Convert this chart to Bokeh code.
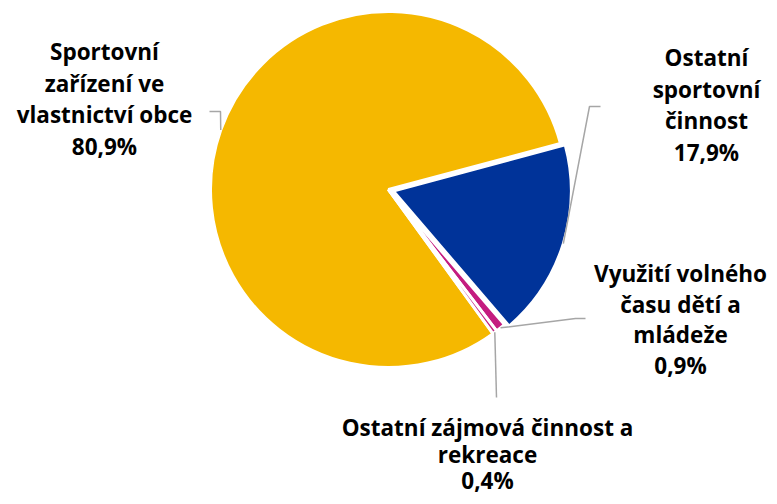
import math
from bokeh.plotting import figure
from bokeh.models import Range1d
from bokeh.core.properties import value
from bokeh.embed import file_html
from bokeh.resources import INLINE

# ---- data ----
categories = ["Sportovní\nzařízení ve\nvlastnictví obce",
              "Ostatní\nsportovní\nčinnost",
              "Využití volného\nčasu dětí a\nmládeže",
              "Ostatní zájmová činnost a\nrekreace"]
shares = [80.9, 17.9, 0.9, 0.4]
pct_labels = ["80,9%", "17,9%", "0,9%", "0,4%"]
colors = ["#F5B800", "#003399", "#C41C80", "#C41C80"]

# ---- layout (picture px, origin top-left) ----
FW, FH = 769, 496
CX, CY, R = 388, 189, 178
START_DEG = 15.0          # where the blue slice begins, going clockwise
explode = [0, 5, 0, 0]
label_pos = [(104, 51), (706, 57), (680, 273), (487, 427)]   # first line center
line_h = [31.5, 31.5, 30.7, 26.5]
elbows = [[(209, 111), (220, 111)], [(600, 106), (589, 106)],
          [(585, 318), (575, 318)], [(496, 397), (496, 397)]]
FONT = "Open Sans"
FSIZE = "22.5px"

def sy(y):
    return FH - y

p = figure(width=FW, height=FH, x_range=Range1d(0, FW), y_range=Range1d(0, FH),
           output_backend="svg", toolbar_location=None, min_border=0)
p.axis.visible = False
p.grid.visible = False
p.outline_line_color = None
p.background_fill_color = "white"

total = sum(shares)
order = [1, 2, 3, 0]      # clockwise order starting at START_DEG
ang = math.radians(START_DEG)
spans = {}
for i in order:
    a0 = ang
    a1 = ang - shares[i] / total * 2 * math.pi
    spans[i] = (a1, a0)
    ang = a1

for i in range(4):
    a1, a0 = spans[i]
    mid = (a0 + a1) / 2
    ox = explode[i] * math.cos(mid)
    oy = explode[i] * math.sin(mid)
    p.wedge(x=[CX + ox], y=[sy(CY) + oy], radius=R, start_angle=[a1], end_angle=[a0],
            direction="anticlock", fill_color=colors[i], line_color="white", line_width=3)

# leader lines
for i in range(4):
    a1, a0 = spans[i]
    mid = (a0 + a1) / 2
    ax = CX + (R + explode[i]) * math.cos(mid)
    ay = sy(CY) + (R + explode[i]) * math.sin(mid)
    (ex1, ey1), (ex2, ey2) = elbows[i]
    p.line([ex1, ex2, ax], [sy(ey1), sy(ey2), ay], line_color="#A6A6A6", line_width=1.5)

# labels
for i in range(4):
    lines = categories[i].split("\n") + [pct_labels[i]]
    lx, ly = label_pos[i]
    p.text(x=[lx] * len(lines), y=[sy(ly + k * line_h[i]) for k in range(len(lines))],
           text=lines, text_font=value(FONT), text_font_size=FSIZE,
           text_font_style="bold", text_align="center", text_baseline="middle",
           text_color="black")

open("out.html", "w").write(file_html(p, INLINE))
